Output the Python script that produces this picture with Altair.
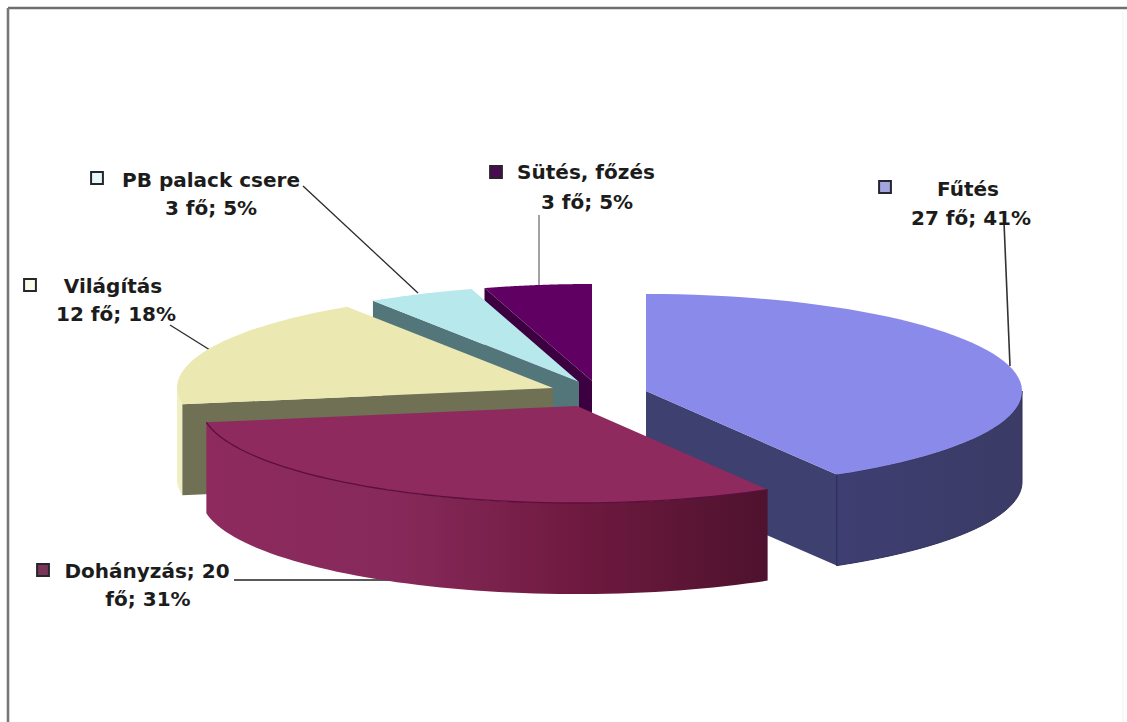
import math
import altair as alt
import pandas as pd

# Survey results: head counts per household use
categories = ["Fűtés", "Dohányzás", "Világítás", "PB palack csere", "Sütés, főzés"]
counts = [27, 20, 12, 3, 3]

# Label lines shown beside each slice
label_lines = [
    ["Fűtés", "27 fő; 41%"],
    ["Dohányzás; 20", "fő; 31%"],
    ["Világítás", "12 fő; 18%"],
    ["PB palack csere", "3 fő; 5%"],
    ["Sütés, főzés", "3 fő; 5%"],
]

W, H = 1127, 722
RX, RY, DEPTH = 376, 97, 91

# Exploded apex of every slice on the tilted disc
apex = {
    "Fűtés": (646, 391),
    "Dohányzás": (577, 406),
    "Világítás": (553, 388),
    "PB palack csere": (579, 382),
    "Sütés, főzés": (592, 381),
}

total = sum(counts)
angles = {}
running = 0.0
for name, n in zip(categories, counts):
    angles[name] = (running, running + 360.0 * n / total)
    running += 360.0 * n / total

x_scale = alt.Scale(domain=[0, W], range=[0, W], nice=False, zero=False)
y_scale = alt.Scale(domain=[0, H], range=[0, H], nice=False, zero=False)


def rim(name, deg, drop=0):
    cx, cy = apex[name]
    t = math.radians(deg)
    return cx + RX * math.sin(t), cy - RY * math.cos(t) + drop


def sweep(name, a0, a1, drop=0, steps=60):
    return [rim(name, a0 + (a1 - a0) * i / steps, drop) for i in range(steps + 1)]


def path(points, **props):
    df = pd.DataFrame({"x": [p[0] for p in points], "y": [p[1] for p in points], "i": range(len(points))})
    return alt.Chart(df).mark_line(**props).encode(
        x=alt.X("x:Q", scale=x_scale, axis=None),
        y=alt.Y("y:Q", scale=y_scale, axis=None),
        order="i:Q",
    )


def polygon(points, fill, stroke=None, width=1.0):
    return path(list(points) + [points[0]], fill=fill, strokeWidth=width,
                stroke=stroke if stroke else "transparent")


def top_face(name, fill, stroke=None):
    a0, a1 = angles[name]
    cx, cy = apex[name]
    return polygon([(cx, cy)] + sweep(name, a0, a1), fill, stroke, 1.0)


def radial_wall(name, deg, fill):
    cx, cy = apex[name]
    rx, ry = rim(name, deg)
    return polygon([(cx, cy), (rx, ry), (rx, ry + DEPTH), (cx, cy + DEPTH)], fill)


def outer_wall(name, a0, a1, fill, stroke=None):
    return polygon(sweep(name, a0, a1) + sweep(name, a1, a0, DEPTH), fill, stroke, 1.0)


def shaded(stops):
    return alt.LinearGradient(
        gradient="linear", x1=0, x2=1, y1=0, y2=0,
        stops=[alt.GradientStop(offset=o, color=c) for o, c in stops],
    )


def leader(x0, y0, x1, y1, color, width=1.3):
    return path([(x0, y0), (x1, y1)], color=color, strokeWidth=width)


def text_line(text, x, y):
    df = pd.DataFrame({"x": [x], "y": [y], "t": [text]})
    return alt.Chart(df).mark_text(
        font="DejaVu Sans", fontWeight="bold", fontSize=20, color="#1c1c1c",
        align="center", baseline="middle",
    ).encode(
        x=alt.X("x:Q", scale=x_scale, axis=None),
        y=alt.Y("y:Q", scale=y_scale, axis=None),
        text="t:N",
    )


def key(x, y, fill):
    df = pd.DataFrame({"x": [x], "y": [y]})
    return alt.Chart(df).mark_square(
        size=140, fill=fill, stroke="#26262e", strokeWidth=2, opacity=1
    ).encode(
        x=alt.X("x:Q", scale=x_scale, axis=None),
        y=alt.Y("y:Q", scale=y_scale, axis=None),
    )


layers = []

# Page frame
layers += [
    leader(8, 8, W, 8, "#6f6f6f", 2.6),
    leader(8, 8, 8, H, "#787878", 2.6),
    leader(1123, 12, 1123, H, "#f6f6f6", 1.5),
]

# Leader lines sit under the slices
layers += [
    leader(303, 186, 418, 293, "#2a2a2a"),
    leader(170, 325, 210, 350, "#2a2a2a"),
    leader(539, 215, 539, 286, "#707070"),
    leader(1004, 222, 1010, 366, "#333333", 1.6),
    leader(234, 580, 420, 580, "#222222", 1.4),
]

# Slices, back to front
f0, f1 = angles["Fűtés"]
layers += [
    outer_wall("Fűtés", 90, f1, shaded([(0, "#3e3e72"), (1, "#3b3b66")]), "#30305a"),
    radial_wall("Fűtés", f1, "#3e4070"),
    top_face("Fűtés", "#8a8aea"),
    path([rim("Fűtés", f1), rim("Fűtés", f1, DEPTH)], color="#2c2c60", strokeWidth=1.0),
]

layers += [
    radial_wall("Sütés, főzés", angles["Sütés, főzés"][0], "#3c0040"),
    top_face("Sütés, főzés", "#5f0062"),
]

layers += [
    radial_wall("PB palack csere", angles["PB palack csere"][0], "#53767a"),
    top_face("PB palack csere", "#b6e8ec"),
]

v0, v1 = angles["Világítás"]
layers += [
    outer_wall("Világítás", v0, 270, "#f0efc4"),
    radial_wall("Világítás", v0, "#6f7054"),
    top_face("Világítás", "#ece8b2"),
]

d0, d1 = angles["Dohányzás"]
layers += [
    outer_wall(
        "Dohányzás", d0, d1,
        shaded([(0, "#8e2a5e"), (0.35, "#86295a"), (0.65, "#701a40"), (1, "#4e122e")]),
    ),
    top_face("Dohányzás", "#8e2a5e"),
    path(sweep("Dohányzás", d0, d1), color="#5c0f3c", strokeWidth=1.3),
]

# Legend keys and data labels
layers += [
    key(885, 187, "#a4a4e0"),
    key(43, 570, "#7a3558"),
    key(30, 285, "#fbfbe8"),
    key(97, 178, "#e8f8f8"),
    key(496, 172, "#4c0a52"),
]
label_pos = [
    [(968, 190), (971, 219)],
    [(147, 572), (148, 600)],
    [(113, 287), (116, 315)],
    [(211, 181), (211, 209)],
    [(586, 173), (587, 203)],
]
for lines, pos in zip(label_lines, label_pos):
    for line, (x, y) in zip(lines, pos):
        layers.append(text_line(line, x, y))

chart = alt.layer(*layers).properties(
    width=W, height=H, padding=0, background="#ffffff",
    autosize=alt.AutoSizeParams(type="none"),
).configure_view(stroke=None)

chart.save("out.html", embed_options={"renderer": "svg", "actions": False})
